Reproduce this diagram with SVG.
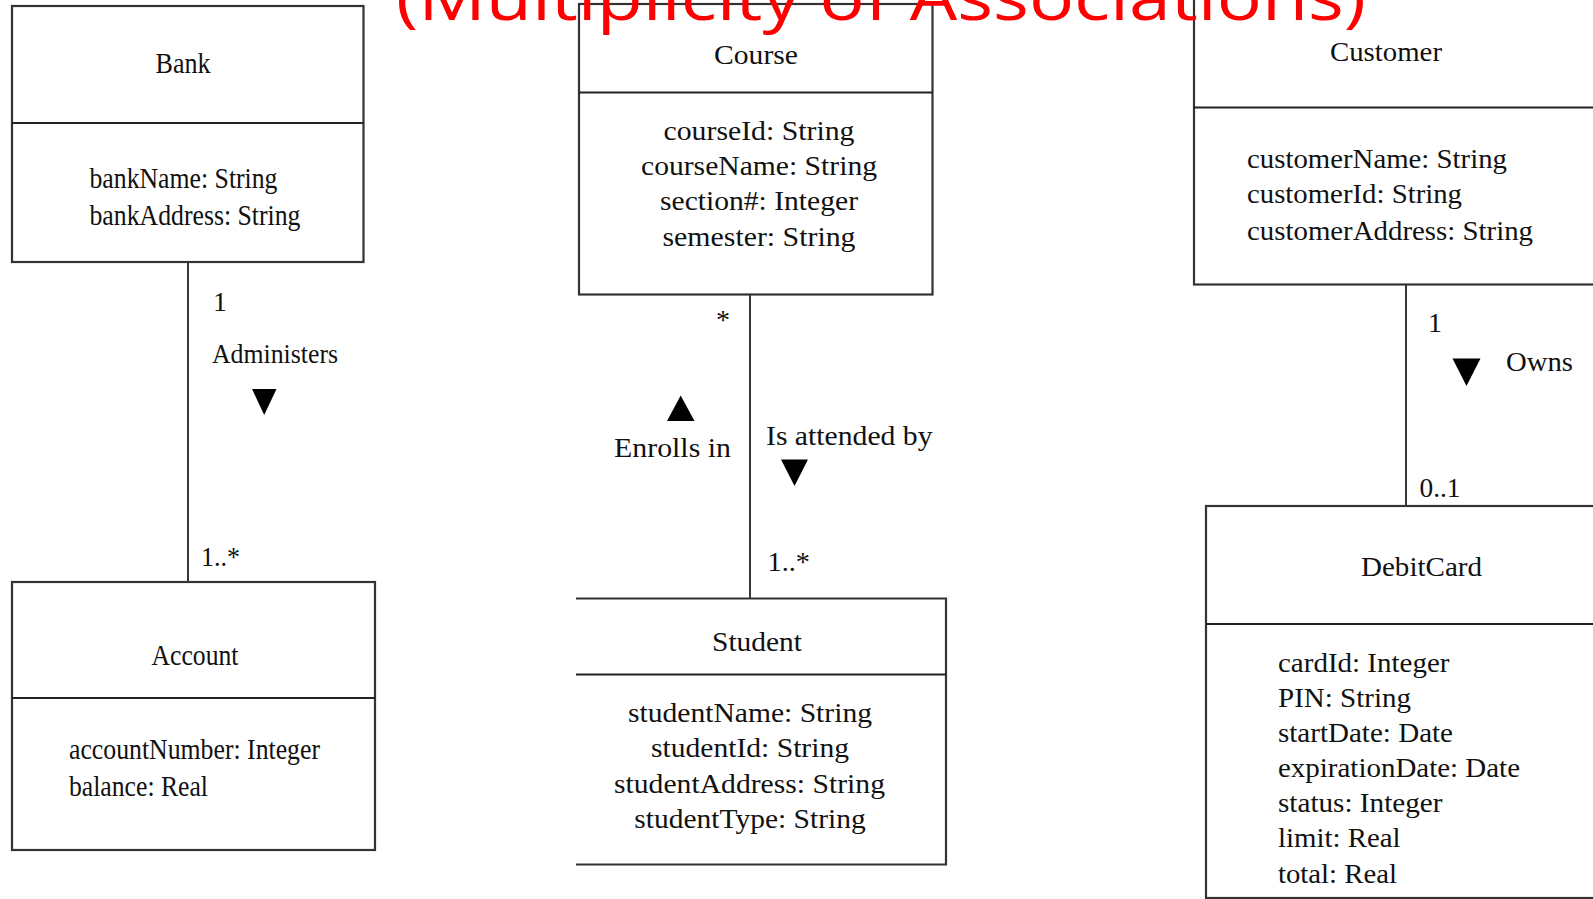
<svg xmlns="http://www.w3.org/2000/svg" width="1593" height="899" viewBox="0 0 1593 899">
<defs>
<style>
.box{fill:#fff;stroke:#333;stroke-width:2.2}
.div{stroke:#222;stroke-width:2}
.con{stroke:#222;stroke-width:1.8;fill:none}
.t{font-family:"Liberation Serif","Times New Roman",serif;fill:#111;font-size:28px}
.tb{font-family:"Liberation Serif","Times New Roman",serif;fill:#111;font-size:30px}
.c{text-anchor:middle}
.tri{fill:#000}
.title{font-family:"Open Sans","Liberation Sans",sans-serif;font-size:64px;fill:#ff0000}
</style>
</defs>
<rect width="1593" height="899" fill="#fff"/>

<g id="connectors">
<line class="con" x1="188" y1="262" x2="188" y2="582"/>
<line class="con" x1="750" y1="295" x2="750" y2="598"/>
<line class="con" x1="1406" y1="284" x2="1406" y2="510"/>
</g>

<g id="bank">
<rect class="box" x="12" y="6" width="351.5" height="256"/>
<line class="div" x1="12" y1="123" x2="363.5" y2="123"/>
<text class="tb c" x="183" y="73" textLength="55" lengthAdjust="spacingAndGlyphs">Bank</text>
<text class="tb" x="89.5" y="188" textLength="188" lengthAdjust="spacingAndGlyphs">bankName: String</text>
<text class="tb" x="89.5" y="224.5" textLength="211" lengthAdjust="spacingAndGlyphs">bankAddress: String</text>
</g>

<g id="account">
<rect class="box" x="12" y="582" width="363" height="268"/>
<line class="div" x1="12" y1="698" x2="375" y2="698"/>
<text class="tb c" x="195" y="664.5" textLength="87" lengthAdjust="spacingAndGlyphs">Account</text>
<text class="tb" x="69" y="759" textLength="251" lengthAdjust="spacingAndGlyphs">accountNumber: Integer</text>
<text class="tb" x="69" y="795.5" textLength="139" lengthAdjust="spacingAndGlyphs">balance: Real</text>
</g>

<g id="administers-label">
<text class="t" x="213" y="311">1</text>
<text class="t" x="212" y="362.5" textLength="126" lengthAdjust="spacingAndGlyphs">Administers</text>
<polygon class="tri" points="252,389 276.5,389 264.2,415"/>
<text class="t" x="201" y="566" textLength="39" lengthAdjust="spacingAndGlyphs">1..*</text>
</g>

<g id="course">
<rect class="box" x="579" y="4" width="353.5" height="290.5"/>
<line class="div" x1="579" y1="92.5" x2="932.5" y2="92.5"/>
<text class="t c" x="756" y="64" textLength="84" lengthAdjust="spacingAndGlyphs">Course</text>
<text class="t c" x="759" y="140" textLength="191" lengthAdjust="spacingAndGlyphs">courseId: String</text>
<text class="t c" x="759" y="175" textLength="236" lengthAdjust="spacingAndGlyphs">courseName: String</text>
<text class="t c" x="759" y="210" textLength="198" lengthAdjust="spacingAndGlyphs">section#: Integer</text>
<text class="t c" x="759" y="245.5" textLength="193" lengthAdjust="spacingAndGlyphs">semester: String</text>
</g>

<g id="enrolls-label">
<text class="t c" x="723" y="329">*</text>
<polygon class="tri" points="667,421 694.5,421 680.7,395.5"/>
<text class="t" x="614" y="456.5" textLength="117" lengthAdjust="spacingAndGlyphs">Enrolls in</text>
<text class="t" x="766" y="444.5" textLength="166.5" lengthAdjust="spacingAndGlyphs">Is attended by</text>
<polygon class="tri" points="781,459.5 808,459.5 794.5,486"/>
<text class="t" x="767.5" y="571" textLength="42.5" lengthAdjust="spacingAndGlyphs">1..*</text>
</g>

<g id="student">
<rect x="576" y="598.5" width="370" height="266" fill="#fff"/>
<path class="box" fill="none" d="M576,598.5 H946 V864.5 H576"/>
<line class="div" x1="576" y1="674.5" x2="946" y2="674.5"/>
<text class="t c" x="757" y="651" textLength="90" lengthAdjust="spacingAndGlyphs">Student</text>
<text class="t c" x="750" y="722" textLength="244" lengthAdjust="spacingAndGlyphs">studentName: String</text>
<text class="t c" x="750" y="757" textLength="198" lengthAdjust="spacingAndGlyphs">studentId: String</text>
<text class="t c" x="749.5" y="792.5" textLength="271" lengthAdjust="spacingAndGlyphs">studentAddress: String</text>
<text class="t c" x="750" y="828" textLength="231.5" lengthAdjust="spacingAndGlyphs">studentType: String</text>
</g>

<g id="customer">
<rect class="box" x="1194" y="-10" width="420" height="294.5"/>
<line class="div" x1="1194" y1="107.5" x2="1600" y2="107.5"/>
<text class="t c" x="1386" y="61" textLength="112" lengthAdjust="spacingAndGlyphs">Customer</text>
<text class="t" x="1247" y="167.5" textLength="260" lengthAdjust="spacingAndGlyphs">customerName: String</text>
<text class="t" x="1247" y="203" textLength="215" lengthAdjust="spacingAndGlyphs">customerId: String</text>
<text class="t" x="1247" y="240" textLength="286" lengthAdjust="spacingAndGlyphs">customerAddress: String</text>
</g>

<g id="owns-label">
<text class="t" x="1428" y="332">1</text>
<polygon class="tri" points="1452.5,358.5 1480.5,358.5 1466.5,386"/>
<text class="t" x="1506" y="370.7" textLength="67" lengthAdjust="spacingAndGlyphs">Owns</text>
<text class="t" x="1419.5" y="496.5" textLength="41" lengthAdjust="spacingAndGlyphs">0..1</text>
</g>

<g id="debitcard">
<rect class="box" x="1206" y="506" width="420" height="392"/>
<line class="div" x1="1206" y1="624" x2="1600" y2="624"/>
<text class="t c" x="1421.5" y="576" textLength="121" lengthAdjust="spacingAndGlyphs">DebitCard</text>
<text class="t" x="1278" y="671.5" textLength="171.5" lengthAdjust="spacingAndGlyphs">cardId: Integer</text>
<text class="t" x="1278" y="707" textLength="133" lengthAdjust="spacingAndGlyphs">PIN: String</text>
<text class="t" x="1278" y="741.5" textLength="175" lengthAdjust="spacingAndGlyphs">startDate: Date</text>
<text class="t" x="1278" y="777" textLength="242" lengthAdjust="spacingAndGlyphs">expirationDate: Date</text>
<text class="t" x="1278" y="811.5" textLength="164.5" lengthAdjust="spacingAndGlyphs">status: Integer</text>
<text class="t" x="1278" y="847" textLength="122.5" lengthAdjust="spacingAndGlyphs">limit: Real</text>
<text class="t" x="1278" y="883" textLength="119" lengthAdjust="spacingAndGlyphs">total: Real</text>
</g>

<g id="title">
<text class="title" x="396" y="20" textLength="970" lengthAdjust="spacingAndGlyphs">(Multiplicity of Associations)</text>
</g>
</svg>
